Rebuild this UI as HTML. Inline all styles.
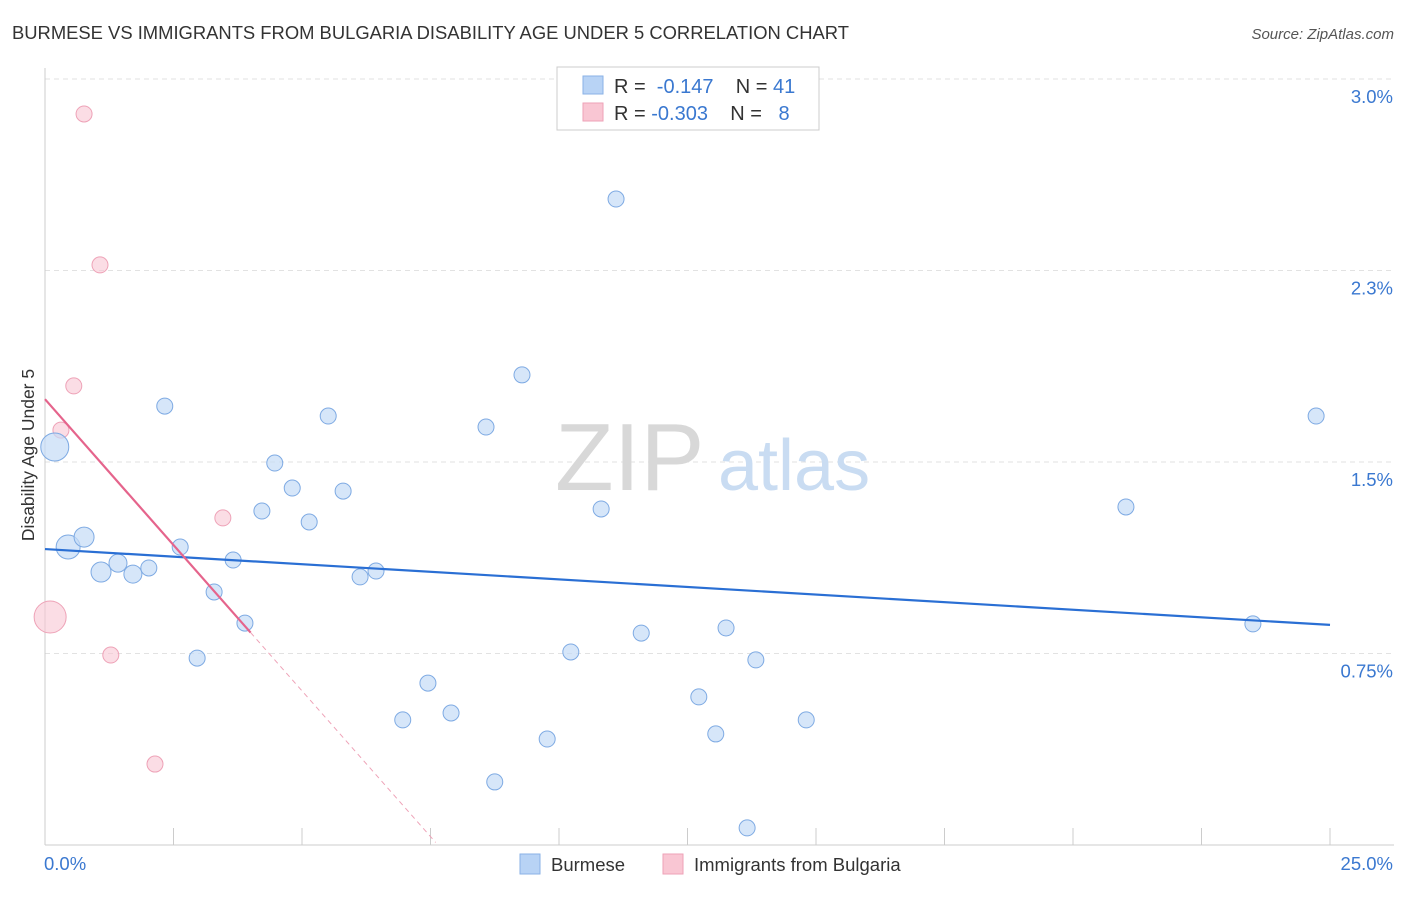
<!DOCTYPE html>
<html><head><meta charset="utf-8">
<style>
body{margin:0;background:#fff;font-family:"Liberation Sans",sans-serif;}
svg text{font-family:"Liberation Sans",sans-serif;}
</style></head>
<body>
<svg id="chart" width="1406" height="892" xmlns="http://www.w3.org/2000/svg">
<text x="12" y="39" font-size="18.4" fill="#333">BURMESE VS IMMIGRANTS FROM BULGARIA DISABILITY AGE UNDER 5 CORRELATION CHART</text>
<text x="1394" y="39" font-size="15" fill="#555" font-style="italic" text-anchor="end">Source: ZipAtlas.com</text>
<g id="grid"></g>
<g id="axes"></g>
<text x="555" y="490" font-size="96" fill="#d8d8d8" font-family="Liberation Serif">ZIP</text>
<text x="718" y="490" font-size="72" fill="#c9dcf2">atlas</text>
<g id="marks"></g>
<text transform="translate(34,455) rotate(-90)" font-size="17.5" fill="#333" text-anchor="middle">Disability Age Under 5</text>
<g>
<rect x="557" y="67" width="262" height="63" fill="#fff" stroke="#ccc"/>
<rect x="583" y="76" width="20" height="18" fill="#b8d3f5" stroke="#8ab2e6"/>
<rect x="583" y="103" width="20" height="18" fill="#f9c6d3" stroke="#eea2b7"/>
<text x="614" y="93" font-size="20" fill="#333">R = <tspan fill="#3a78d0">&#160;-0.147</tspan>&#160;&#160;&#160;&#160;N = <tspan fill="#3a78d0">41</tspan></text>
<text x="614" y="120" font-size="20" fill="#333">R = <tspan fill="#3a78d0">-0.303</tspan>&#160;&#160;&#160;&#160;N = <tspan fill="#3a78d0">&#160;&#160;8</tspan></text>
</g>
<g>
<rect x="520" y="854" width="20" height="20" fill="#b8d3f5" stroke="#8ab2e6"/>
<text x="551" y="871" font-size="18.5" fill="#333">Burmese</text>
<rect x="663" y="854" width="20" height="20" fill="#f9c6d3" stroke="#eea2b7"/>
<text x="694" y="871" font-size="18.5" fill="#333">Immigrants from Bulgaria</text>
</g>
</svg>
<script>
const blueX=[0.19,0.45,0.76,1.09,1.42,1.71,2.02,2.33,2.63,2.96,3.29,3.66,3.89,4.22,4.47,4.81,5.14,5.51,5.80,6.13,6.44,6.96,7.45,7.90,8.58,8.75,9.28,9.77,10.23,10.82,11.11,11.60,12.72,13.05,13.25,13.66,13.83,14.81,21.03,23.50,24.73];
const blueY=[1.559,1.167,1.206,1.069,1.104,1.061,1.085,1.719,1.167,0.732,0.991,1.116,0.869,1.308,1.496,1.398,1.265,1.680,1.386,1.050,1.073,0.490,0.634,0.517,1.637,0.247,1.841,0.415,0.756,1.316,2.530,0.830,0.580,0.435,0.850,0.067,0.725,0.490,1.324,0.866,1.680];
const blueR=[14,12,10,10,9,9,8,8,8,8,8,8,8,8,8,8,8,8,8,8,8,8,8,8,8,8,8,8,8,8,8,8,8,8,8,8,8,8,8,8,8];
const pinkX=[0.76,1.07,0.56,0.31,3.46,1.28,2.14,0.10];
const pinkY=[2.863,2.272,1.798,1.625,1.281,0.744,0.317,0.893];
const pinkR=[8,8,8,8,8,8,8,16];
const blueTrend=[[0,1.159],[25,0.862]];
const pinkTrendSolid=[[0,1.746],[4.0,0.832]];
const pinkTrendDash=[[4.0,0.832],[7.6,0.01]];
const yTicks=[0.75,1.5,2.25,3.0];
const yTickLabels=["0.75%","1.5%","2.3%","3.0%"];
const xTicks=[0,2.5,5,7.5,10,12.5,15,17.5,20,22.5,25];
const NS="http://www.w3.org/2000/svg";
const xs=v=>45+v*1285/25;
const ys=v=>845-v*255.33;
function mk(tag,attrs,parent){const e=document.createElementNS(NS,tag);for(const k in attrs)e.setAttribute(k,attrs[k]);parent.appendChild(e);return e;}
const grid=document.getElementById('grid'),axes=document.getElementById('axes'),marks=document.getElementById('marks');
yTicks.forEach((t,i)=>{
 const l=mk('line',{x1:45,x2:1394,y1:ys(t),y2:ys(t),stroke:'#e2e2e2','stroke-dasharray':'5,4'},grid);
 
 
 const tx=mk('text',{x:1393,y:ys(t)+24,'font-size':18.5,fill:'#3a78d0','text-anchor':'end'},grid);
 tx.textContent=yTickLabels[i];
 
 
});
mk('line',{x1:45,x2:45,y1:68,y2:845,stroke:'#ccc'},axes);
mk('line',{x1:45,x2:1394,y1:845,y2:845,stroke:'#ccc'},axes);
xTicks.forEach(t=>{
 const l=mk('line',{x1:xs(t),x2:xs(t),y1:828,y2:845,stroke:'#ccc'},axes);
 
 
});
let t0=mk('text',{x:44,y:870,'font-size':18.5,fill:'#3a78d0'},axes);t0.textContent='0.0%';


let t1=mk('text',{x:1393,y:870,'font-size':18.5,fill:'#3a78d0','text-anchor':'end'},axes);t1.textContent='25.0%';


pinkX.forEach((x,i)=>{
 const c=mk('circle',{cx:xs(x),cy:ys(pinkY[i]),r:pinkR[i],fill:'#f9c6d3','fill-opacity':0.6,stroke:'#eea2b7','stroke-width':1},marks);
 
 
});
blueX.forEach((x,i)=>{
 const c=mk('circle',{cx:xs(x),cy:ys(blueY[i]),r:blueR[i],fill:'#c5dbf6','fill-opacity':0.7,stroke:'#7eaae3','stroke-width':1},marks);
 
 
});
const bl=mk('line',{x1:xs(blueTrend[0][0]),y1:ys(blueTrend[0][1]),x2:xs(blueTrend[1][0]),y2:ys(blueTrend[1][1]),stroke:'#2a6fd4','stroke-width':2.2},marks);


const pl=mk('line',{x1:xs(pinkTrendSolid[0][0]),y1:ys(pinkTrendSolid[0][1]),x2:xs(pinkTrendSolid[1][0]),y2:ys(pinkTrendSolid[1][1]),stroke:'#e5648c','stroke-width':2.2},marks);


const pd=mk('line',{x1:xs(pinkTrendDash[0][0]),y1:ys(pinkTrendDash[0][1]),x2:xs(pinkTrendDash[1][0]),y2:ys(pinkTrendDash[1][1]),stroke:'#eea2b7','stroke-width':1,'stroke-dasharray':'5,4'},marks);


</script>
</body></html>
